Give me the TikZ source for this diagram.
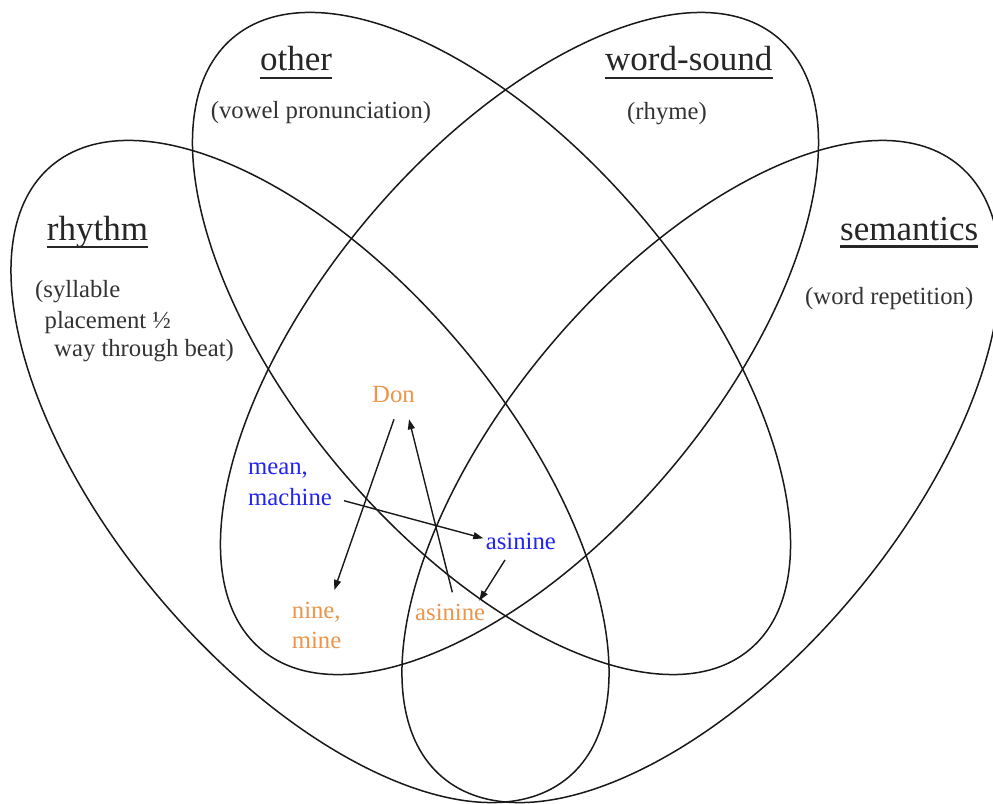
\documentclass[tikz,border=0pt]{standalone}
\usepackage{fontspec}
\setmainfont{Liberation Serif}
\usetikzlibrary{arrows.meta,calc}
\definecolor{wblue}{RGB}{35,35,245}
\definecolor{worange}{RGB}{235,150,75}
\begin{document}
\begin{tikzpicture}[x=1pt,y=-1pt,
  ell/.style={draw=black!90, line width=1.5pt},
  title/.style={inner sep=0pt, anchor=base west, text=black!85, font=\fontsize{35}{40}\selectfont},
  sub/.style={inner sep=0pt, anchor=base west, text=black!80, font=\fontsize{24.7}{29}\selectfont},
  word/.style={inner sep=0pt, anchor=base west, font=\fontsize{24.7}{29}\selectfont},
  uline/.style={draw=black!85, line width=2.3pt},
  arr/.style={draw=black!90, line width=1.4pt, -{Triangle[length=10pt,width=7pt]}}]
\fill[white] (0,0) rectangle (993,803);
\useasboundingbox (0,0) rectangle (993,803);
\begin{scope}
\clip (0,0) rectangle (993,803);
\coordinate (cR) at (310,471.5);
\coordinate (cO) at (491.5,343.5);
\coordinate (cS) at (701,471.5);
\coordinate (cW) at (519.5,343.5);
\draw[ell, rotate around={-49.77:(cR)}] (cR) ellipse [x radius=400.4, y radius=196.6];
\draw[ell, rotate around={-49.77:(cO)}] (cO) ellipse [x radius=400.4, y radius=196.6];
\draw[ell, rotate around={49.77:(cS)}] (cS) ellipse [x radius=400.4, y radius=196.6];
\draw[ell, rotate around={49.77:(cW)}] (cW) ellipse [x radius=400.4, y radius=196.6];
\end{scope}
% titles
\node[title] (other) at (260,70) {other};
\node[title] (wordsound) at (605,70) {word-sound};
\node[title] (rhythm) at (46.7,240) {rhythm};
\node[title] (semantics) at (840,240) {semantics};
\draw[uline] ($(other.base west)+(0,8)$) -- ($(other.base east)+(0,8)$);
\draw[uline] ($(wordsound.base west)+(0,8)$) -- ($(wordsound.base east)+(0,8)$);
\draw[uline] ($(rhythm.base west)+(0,7)$) -- ($(rhythm.base east)+(0,7)$);
\draw[uline] ($(semantics.base west)+(0,6.5)$) -- ($(semantics.base east)+(0,6.5)$);
% subtitles
\node[sub] (vowel) at (210.7,118) {(vowel pronunciation)};
\node[sub] (rhyme) at (627,119) {(rhyme)};
\node[sub] (wordrep) at (805,304) {(word repetition)};
\node[sub] (syl1) at (35,297) {(syllable};
\node[sub] (syl2) at (44.5,328) {placement ½};
\node[sub] (syl3) at (54,356) {way through beat)};
% words
\node[word, anchor=base, text=worange] (don) at (393.5,402) {Don};
\node[word, text=wblue] (mean) at (248,474) {mean,};
\node[word, text=wblue] (machine) at (248,505) {machine};
\node[word, text=wblue] (asB) at (485.7,549) {asinine};
\node[word, text=worange] (nine) at (291.7,618) {nine,};
\node[word, text=worange] (mine) at (291.7,648) {mine};
\node[word, text=worange] (asO) at (415,620) {asinine};
% arrows
\draw[arr] ($(don.base)+(0.5,17.3)$) -- ($(nine.base west)+(42.6,-28)$);
\draw[arr] ($(asO.base west)+(37.3,-27.7)$) -- ($(don.base)+(15.5,17.3)$);
\draw[arr] ($(machine.base west)+(96,-4.3)$) -- ($(asB.base west)+(-2.4,-10.7)$);
\draw[arr] ($(asB.base west)+(19.3,11)$) -- ($(asO.base west)+(64.3,-19.3)$);
\end{tikzpicture}
\end{document}
